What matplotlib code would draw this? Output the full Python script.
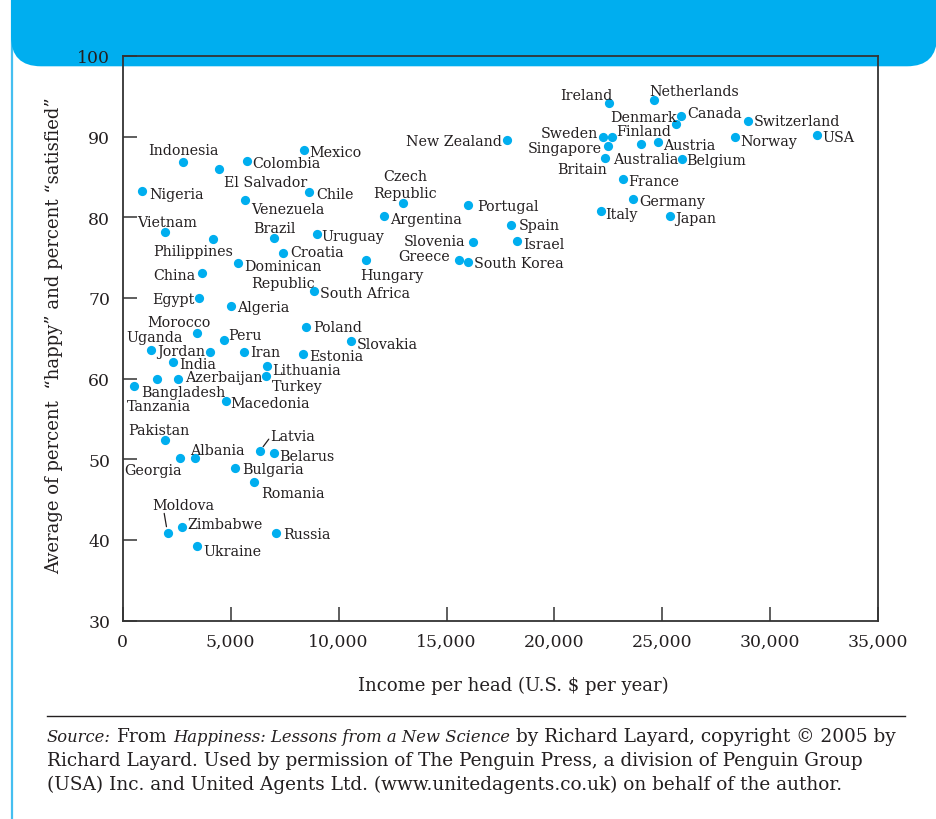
import matplotlib
matplotlib.use('Agg')
import matplotlib.pyplot as plt
from matplotlib.patches import FancyBboxPatch

# ---------------- data ----------------
countries = ['Ireland', 'Netherlands', 'Canada', 'Denmark', 'Switzerland', 'USA', 'Norway',
             'New Zealand', 'Sweden', 'Finland', 'Singapore', 'Australia', 'Austria', 'Britain',
             'Belgium', 'France', 'Germany', 'Italy', 'Japan', 'Portugal', 'Spain', 'Slovenia',
             'Israel', 'Greece', 'South Korea', 'Czech\nRepublic', 'Argentina', 'Hungary',
             'Indonesia', 'El Salvador', 'Colombia', 'Mexico', 'Nigeria', 'Chile', 'Venezuela',
             'Vietnam', 'Philippines', 'Brazil', 'Uruguay', 'Croatia', 'Dominican\nRepublic',
             'China', 'Egypt', 'South Africa', 'Algeria', 'Morocco', 'Peru', 'Poland', 'Slovakia',
             'Uganda', 'Jordan', 'Iran', 'Estonia', 'India', 'Lithuania', 'Azerbaijan',
             'Bangladesh', 'Tanzania', 'Turkey', 'Macedonia', 'Pakistan', 'Georgia', 'Albania',
             'Latvia', 'Belarus', 'Bulgaria', 'Romania', 'Moldova', 'Zimbabwe', 'Russia', 'Ukraine']

income = [22540, 24620, 25870, 25630, 28980, 32160, 28360,
          17790, 22230, 22680, 22470, 24020, 24800, 22350,
          25890, 23170, 23660, 22140, 25350, 15990, 17990, 16240,
          18250, 15590, 16010, 13000, 12100, 11260,
          2810, 4460, 5770, 8400, 910, 8630, 5670,
          1970, 4170, 7020, 8990, 7410, 5360,
          3660, 3550, 8880, 5020, 3440, 4680, 8490, 10580,
          1300, 4060, 5630, 8340, 2330, 6680, 2550,
          1590, 540, 6620, 4770, 1950, 2650, 3350,
          6350, 7010, 5190, 6100, 2080, 2730, 7100, 3440]

happiness = [94.2, 94.6, 92.5, 91.6, 91.9, 90.2, 89.9,
             89.6, 90.0, 90.0, 88.8, 89.1, 89.3, 87.4,
             87.2, 84.7, 82.3, 80.8, 80.1, 81.5, 79.0, 76.9,
             77.0, 74.7, 74.4, 81.8, 80.1, 74.7,
             86.9, 86.0, 87.0, 88.3, 83.3, 83.1, 82.2,
             78.2, 77.3, 77.4, 77.9, 75.6, 74.3,
             73.1, 70.0, 70.8, 69.0, 65.7, 64.8, 66.4, 64.6,
             63.6, 63.3, 63.3, 63.0, 62.1, 61.6, 60.0,
             59.9, 59.1, 60.3, 57.2, 52.4, 50.1, 50.1,
             51.0, 50.8, 48.9, 47.2, 40.8, 41.6, 40.8, 39.3]

x_ticks = [0, 5000, 10000, 15000, 20000, 25000, 30000, 35000]
x_tick_labels = ['0', '5,000', '10,000', '15,000', '20,000', '25,000', '30,000', '35,000']
y_ticks = [30, 40, 50, 60, 70, 80, 90, 100]
y_tick_labels = ['30', '40', '50', '60', '70', '80', '90', '100']

x_label = 'Income per head (U.S. $ per year)'
y_label = 'Average of percent  \u201chappy\u201d and percent \u201csatisfied\u201d'

source_line1 = [('Source:', 'italic'), (' From ', 'normal'),
                ('Happiness: Lessons from a New Science', 'italic'),
                (' by Richard Layard, copyright \u00a9 2005 by', 'normal')]
source_line2 = 'Richard Layard. Used by permission of The Penguin Press, a division of Penguin Group'
source_line3 = '(USA) Inc. and United Agents Ltd. (www.unitedagents.co.uk) on behalf of the author.'

# ---------------- layout (label offsets in pixels: dx, dy up, ha) ----------------
label_layout = {
    'Ireland': (3, 4, 'right'), 'Netherlands': (-5, 5, 'left'), 'Canada': (6, -1, 'left'),
    'Denmark': (1, 3, 'right'), 'Switzerland': (5, -4, 'left'), 'USA': (5, -6, 'left'),
    'Norway': (5, -8, 'left'), 'New Zealand': (-5, -5, 'right'), 'Sweden': (-5, 0, 'right'),
    'Finland': (4, 2, 'left'), 'Singapore': (-6, -6, 'right'), 'Australia': (4, -19, 'center'),
    'Austria': (5, -7, 'left'), 'Britain': (2, -15, 'right'), 'Belgium': (5, -5, 'left'),
    'France': (5, -6, 'left'), 'Germany': (6, -6, 'left'), 'Italy': (5, -7, 'left'),
    'Japan': (5, -6, 'left'), 'Portugal': (9, -5, 'left'), 'Spain': (8, -4, 'left'),
    'Slovenia': (-8, -3, 'right'), 'Israel': (6, -7, 'left'), 'Greece': (-9, 0, 'right'),
    'South Korea': (6, -5, 'left'), 'Czech\nRepublic': (2, 6, 'center'),
    'Argentina': (6, -7, 'left'), 'Hungary': (-6, -19, 'left'), 'Indonesia': (0, 8, 'center'),
    'El Salvador': (5, -17, 'left'), 'Colombia': (5, -6, 'left'), 'Mexico': (5, -6, 'left'),
    'Nigeria': (7, -7, 'left'), 'Chile': (7, -6, 'left'), 'Venezuela': (6, -13, 'left'),
    'Vietnam': (2, 6, 'center'), 'Philippines': (-20, -16, 'center'), 'Brazil': (0, 6, 'center'),
    'Uruguay': (5, -6, 'left'), 'Croatia': (8, -3, 'left'), 'Dominican\nRepublic': (6, -24, 'left'),
    'China': (-6, -6, 'right'), 'Egypt': (-5, -5, 'right'), 'South Africa': (6, -6, 'left'),
    'Algeria': (6, -5, 'left'), 'Morocco': (14, 7, 'right'), 'Peru': (4, 1, 'left'),
    'Poland': (7, -4, 'left'), 'Slovakia': (6, -7, 'left'), 'Uganda': (4, 9, 'center'),
    'Jordan': (-5, -3, 'right'), 'Iran': (6, -4, 'left'), 'Estonia': (6, -6, 'left'),
    'India': (6, -6, 'left'), 'Lithuania': (5, -8, 'left'), 'Azerbaijan': (7, -2, 'left'),
    'Bangladesh': (-16, -17, 'left'), 'Tanzania': (-7, -24, 'left'), 'Turkey': (6, -14, 'left'),
    'Macedonia': (5, -6, 'left'), 'Pakistan': (-6, 6, 'center'), 'Georgia': (2, -16, 'right'),
    'Albania': (-5, 4, 'left'), 'Latvia': (10, 11, 'left'), 'Belarus': (5, -7, 'left'),
    'Bulgaria': (7, -5, 'left'), 'Romania': (7, -15, 'left'), 'Moldova': (-15, 24, 'left'),
    'Zimbabwe': (6, -1, 'left'), 'Russia': (7, -5, 'left'), 'Ukraine': (6, -9, 'left'),
}
leaders = {'Latvia': (9, 12, 4.0), 'Moldova': (-3.4, 20, 4.9)}

BLUE = '#00AEEF'
LINE_BLUE = '#45BFF0'
INK = '#231F20'
SERIF = 'DejaVu Serif'
LABEL_FS = 10.3
TICK_FS = 12.4
AXLABEL_FS = 13
SOURCE_FS = 13.3
SOURCE_IT_FS = 11.8

plt.rcParams['font.family'] = SERIF

W, H = 936, 820
fig = plt.figure(figsize=(W / 100, H / 100), dpi=100)
fig.patch.set_facecolor('white')

# background decoration axes in pixel coordinates (y down)
bg = fig.add_axes([0, 0, 1, 1], zorder=0)
bg.set_xlim(0, W)
bg.set_ylim(H, 0)
bg.axis('off')
banner = FancyBboxPatch((11, -80), 926, 147.3, boxstyle='round,pad=0,rounding_size=30',
                        facecolor=BLUE, edgecolor='none', zorder=1)
bg.add_patch(banner)
bg.axvline(12, color=LINE_BLUE, lw=1.6, zorder=0.5)
bg.plot([47, 905], [717, 717], color=INK, lw=1.0, zorder=1)

# main axes
left, right, top, bottom = 122.7, 878.3, 57.0, 621.5
ax = fig.add_axes([left / W, 1 - bottom / H, (right - left) / W, (bottom - top) / H], zorder=2)
ax.patch.set_alpha(0)
ax.set_xlim(x_ticks[0], x_ticks[-1])
ax.set_ylim(y_ticks[0], y_ticks[-1])
for side in ['left', 'bottom', 'top', 'right']:
    ax.spines[side].set_color('#333333')
    ax.spines[side].set_linewidth(1.3)
ax.set_xticks(x_ticks)
ax.set_xticklabels(x_tick_labels)
ax.set_yticks(y_ticks)
ax.set_yticklabels(y_tick_labels)
ax.tick_params(axis='both', direction='in', length=10, width=1.1, color='#333333',
               labelsize=TICK_FS, labelcolor=INK)
ax.tick_params(axis='x', pad=9)
ax.tick_params(axis='y', pad=9)

ax.scatter(income, happiness, s=44, color=BLUE, linewidths=0, zorder=3, clip_on=False)

for name, xv, yv in zip(countries, income, happiness):
    dx, dy, ha = label_layout[name]
    ax.annotate(name, (xv, yv), xytext=(dx, dy), textcoords='offset pixels',
                ha=ha, va='baseline', fontsize=LABEL_FS, color=INK, family=SERIF,
                linespacing=1.28, multialignment='center', zorder=4)
    if name in leaders:
        lx, ly, shrink = leaders[name]
        ax.annotate('', (xv, yv), xytext=(lx, ly), textcoords='offset pixels',
                    arrowprops=dict(arrowstyle='-', color=INK, lw=0.9,
                                    shrinkA=0, shrinkB=shrink), zorder=2)

# axis labels
bg.text(513, 686, x_label, ha='center', va='center', fontsize=AXLABEL_FS, color=INK)
bg.text(54, 336, y_label, ha='center', va='center', rotation=90, fontsize=AXLABEL_FS, color=INK)

# source note with mixed italics
fig.canvas.draw()
renderer = fig.canvas.get_renderer()
t_sp = bg.text(0, 0, 'a a', fontsize=SOURCE_FS)
t_nsp = bg.text(0, 0, 'aa', fontsize=SOURCE_FS)
space_w = t_sp.get_window_extent(renderer).width - t_nsp.get_window_extent(renderer).width
t_sp.remove()
t_nsp.remove()
x0 = 47
baseline1 = 742
xpos = x0
for txt, style in source_line1:
    stripped = txt.strip()
    lead = len(txt) - len(txt.lstrip())
    trail = len(txt) - len(txt.rstrip())
    xpos += lead * space_w
    fs = SOURCE_IT_FS if style == 'italic' else SOURCE_FS
    t = bg.text(xpos, baseline1, stripped, fontsize=fs, style=style, color=INK,
                va='baseline', ha='left')
    xpos += t.get_window_extent(renderer).width + trail * space_w
bg.text(x0, baseline1 + 24, source_line2, fontsize=SOURCE_FS, color=INK, va='baseline', ha='left')
bg.text(x0, baseline1 + 48, source_line3, fontsize=SOURCE_FS, color=INK, va='baseline', ha='left')

fig.savefig('out.png', dpi=100, facecolor='white')
